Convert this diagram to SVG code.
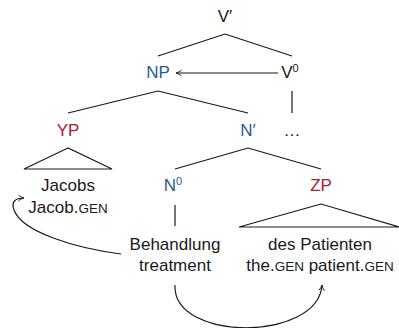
<svg xmlns="http://www.w3.org/2000/svg" width="399" height="328" viewBox="0 0 399 328">
<defs>
<style>
text{font-family:"Liberation Sans",Arial,sans-serif;font-size:17px;fill:#1a1a1a;text-anchor:middle}
.b{fill:#2a5a8c}
.r{fill:#a82030}
.sc{font-size:13.5px}
.sup{font-size:11px}
line,path,polygon{stroke:#1a1a1a;stroke-width:1.2;fill:none}
</style>
<marker id="ah" viewBox="0 0 10 10" refX="9" refY="5" markerWidth="8" markerHeight="8" orient="auto" markerUnits="userSpaceOnUse">
<path d="M2,1.5 Q5,4 9,5 Q5,6 2,8.5" style="stroke:#1a1a1a;stroke-width:1.1;fill:none"/>
</marker>
</defs>
<g id="connectors">
<line x1="225" y1="34" x2="158" y2="56"/>
<line x1="225" y1="34" x2="292" y2="56"/>
<line x1="278" y1="73" x2="176" y2="73" marker-end="url(#ah)"/>
<line x1="158" y1="91" x2="68" y2="113"/>
<line x1="158" y1="91" x2="248" y2="113"/>
<line x1="292" y1="91" x2="292" y2="113"/>
<polygon points="68,148 24,169 112,169"/>
<line x1="248" y1="148" x2="175" y2="169"/>
<line x1="248" y1="148" x2="321" y2="169"/>
<line x1="175" y1="205" x2="175" y2="226"/>
<polygon points="321,204 239,227 399,227"/>
<path d="M121,254 C75,248 22,232 14,210 C11,202 15,198 24,198" marker-end="url(#ah)"/>
<path d="M175,285 C172,342 318,342 322,285" marker-end="url(#ah)"/>
</g>
<g id="Vbar"><text x="225" y="22">V′</text></g>
<g id="NP"><text x="158" y="78" class="b">NP</text></g>
<g id="V0"><text x="290" y="78">V<tspan class="sup" dy="-6">0</tspan></text></g>
<g id="YP"><text x="68" y="136" class="r">YP</text></g>
<g id="Nbar"><text x="248" y="136" class="b">N′</text></g>
<g id="dots"><text x="292" y="136">…</text></g>
<g id="Jacobs"><text x="68" y="191">Jacobs</text><text x="68" y="213">Jacob.<tspan class="sc">GEN</tspan></text></g>
<g id="N0"><text x="173" y="191" class="b">N<tspan class="sup" dy="-6">0</tspan></text></g>
<g id="ZP"><text x="321" y="191" class="r">ZP</text></g>
<g id="Behandlung"><text x="175" y="250">Behandlung</text><text x="175" y="271">treatment</text></g>
<g id="desPatienten"><text x="320" y="250">des Patienten</text><text x="320" y="271">the.<tspan class="sc">GEN</tspan> patient.<tspan class="sc">GEN</tspan></text></g>
</svg>
